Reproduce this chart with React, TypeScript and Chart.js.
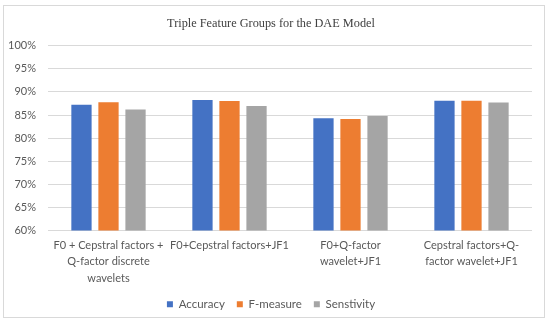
import React, { useEffect, useRef } from "react";
import { Chart, registerables } from "chart.js";

Chart.register(...registerables);

const categories: string[][] = [
  ["F0 + Cepstral factors +", "Q-factor discrete", "wavelets"],
  ["F0+Cepstral factors+JF1"],
  ["F0+Q-factor", "wavelet+JF1"],
  ["Cepstral factors+Q-", "factor wavelet+JF1"],
];
const accuracy = [0.8725, 0.8826, 0.8428, 0.881];
const fMeasure = [0.8775, 0.8804, 0.8413, 0.881];
const sensitivity = [0.862, 0.8696, 0.8478, 0.877];
const yTicks = { min: 0.6, max: 1.0, step: 0.05 };
const title = "Triple Feature Groups for the DAE Model";

const borderPlugin = {
  id: "outerBorder",
  beforeDraw(chart: any) {
    const ctx = chart.ctx;
    ctx.save();
    ctx.fillStyle = "#ffffff";
    ctx.fillRect(0, 0, chart.width, chart.height);
    ctx.strokeStyle = "#d9d9d9";
    ctx.lineWidth = 1;
    ctx.strokeRect(3.5, 5.5, 541, 312);
    ctx.restore();
  },
};

export default function App() {
  const ref = useRef<HTMLCanvasElement>(null);
  useEffect(() => {
    if (!ref.current) return;
    const sans = "Lato, 'Noto Sans', sans-serif";
    const chart = new Chart(ref.current, {
      type: "bar",
      data: {
        labels: categories,
        datasets: [
          { label: "Accuracy", data: accuracy, backgroundColor: "#4472C4" },
          { label: "F-measure", data: fMeasure, backgroundColor: "#ED7D31" },
          { label: "Senstivity", data: sensitivity, backgroundColor: "#A5A5A5" },
        ],
      },
      options: {
        animation: false,
        responsive: false,
        maintainAspectRatio: false,
        layout: { padding: { left: 0, right: 8, top: 10, bottom: 5 } },
        datasets: { bar: { categoryPercentage: 0.67, barPercentage: 0.75 } },
        plugins: {
          title: {
            display: true,
            text: title,
            color: "#404040",
            font: { family: "'Liberation Serif', 'DejaVu Serif', serif", size: 12.3, weight: "normal" },
            padding: { top: 6, bottom: 15 },
          },
          legend: {
            position: "bottom",
            labels: {
              boxWidth: 6,
              boxHeight: 6,
              color: "#595959",
              font: { family: sans, size: 11.5 },
              padding: 12,
            },
          },
          tooltip: { enabled: false },
        },
        scales: {
          x: {
            grid: { display: false, drawTicks: false },
            border: { display: false },
            afterFit: (scale: any) => {
              scale.height = 56;
            },
            ticks: {
              color: "#595959",
              font: { family: sans, size: 11, lineHeight: 1.48 },
              maxRotation: 0,
              autoSkip: false,
              padding: 7,
            },
          },
          y: {
            min: yTicks.min,
            max: yTicks.max,
            afterFit: (scale: any) => {
              scale.width = 48;
            },
            grid: { color: "#d9d9d9", drawTicks: false },
            border: { display: false },
            ticks: {
              stepSize: yTicks.step,
              color: "#595959",
              font: { family: sans, size: 11 },
              padding: 12,
              callback: (v: any) => Math.round(Number(v) * 100) + "%",
            },
          },
          ySpacer: {
            type: "linear",
            position: "right",
            grid: { display: false, drawTicks: false },
            border: { display: false },
            ticks: { display: false },
            afterFit: (scale: any) => {
              scale.width = 10;
            },
          },
        },
      },
      plugins: [borderPlugin],
    });
    return () => chart.destroy();
  }, []);
  return (
    <div style={{ position: "absolute", left: 0, top: 0, width: 550, height: 325 }}>
      <canvas ref={ref} width={550} height={325} style={{ display: "block" }} />
    </div>
  );
}
